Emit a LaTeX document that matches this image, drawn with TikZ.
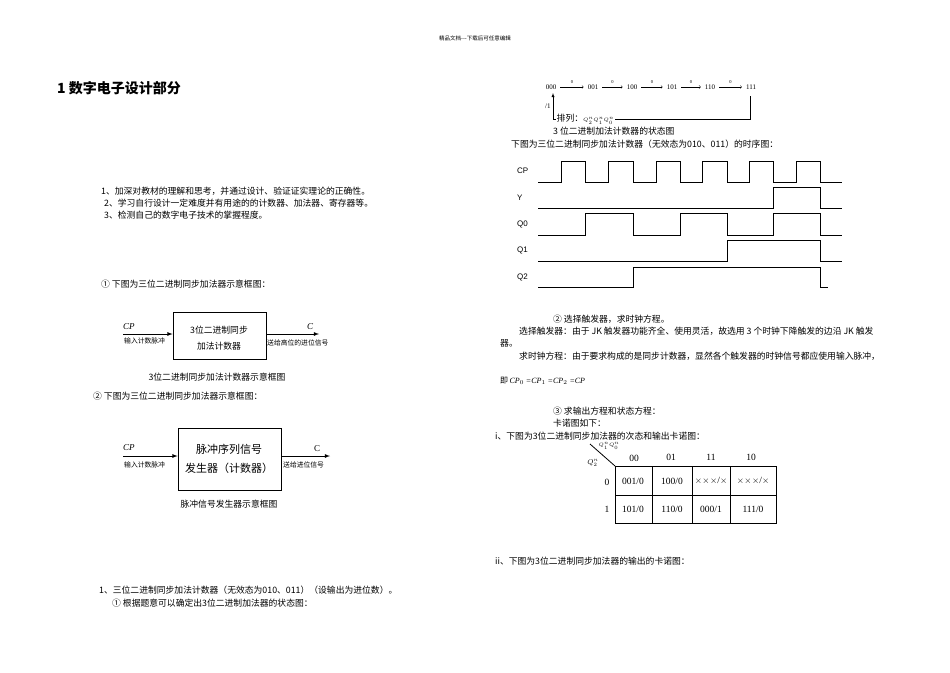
\documentclass[tikz,border=0pt]{standalone}
\usepackage{fontspec}
\setmainfont{Liberation Serif}
\newfontfamily\cjk{Noto Sans CJK SC}
\newfontfamily\arial{Liberation Sans}
\begin{document}
\begin{tikzpicture}[x=1pt,y=-1pt,
  txt/.style={anchor=west,inner sep=0pt,font=\cjk\fontsize{8.8}{9}\selectfont},
  sm/.style={anchor=west,inner sep=0pt,font=\cjk\fontsize{6.8}{7}\selectfont},
  blk/.style={draw,thick,inner sep=0pt},
  sig/.style={line width=0.6pt},
  kc/.style={inner sep=0pt,font=\fontsize{9.5}{10}\selectfont},
  st/.style={inner sep=1pt,font=\fontsize{7}{7}\selectfont},
  arr/.style={-latex,thick}]
\useasboundingbox (0,0) rectangle (950,672);
\node[inner sep=0pt,font=\cjk\fontsize{5.5}{6}\selectfont] (hdr) at (475,38) {精品文档---下载后可任意编辑};
\node[anchor=west,inner sep=0pt,font=\cjk\bfseries\fontsize{14}{15}\selectfont] (ttl) at (57,88) {1 数字电子设计部分};
\node[txt] (a1) at (101,191) {1、加深对教材的理解和思考，并通过设计、验证证实理论的正确性。};
\node[txt] (a2) at (104,203) {2、学习自行设计一定难度并有用途的的计数器、加法器、寄存器等。};
\node[txt] (a3) at (104,215) {3、检测自己的数字电子技术的掌握程度。};
\node[txt] (a4) at (101,284) {① 下图为三位二进制同步加法器示意框图：};
% block 1
\node[blk,minimum width=93pt,minimum height=47pt] (b1) at (219.5,335.5) {};
\node[txt,anchor=center] (b1t1) at (219,330) {3位二进制同步};
\node[txt,anchor=center] (b1t2) at (219,346) {加法计数器};
\coordinate (cp1) at (123,334);
\coordinate (c1) at (319,334);
\draw[arr] (cp1) -- (cp1-|b1.west);
\draw[arr] (c1-|b1.east) -- (c1);
\node[anchor=west,inner sep=0pt,font=\itshape\fontsize{9}{9}\selectfont] (cpl1) at (123,327) {CP};
\node[anchor=west,inner sep=0pt,font=\itshape\fontsize{9}{9}\selectfont] (cl1) at (307,327) {C};
\node[sm] (in1) at (124,341) {输入计数脉冲};
\node[sm] (o1) at (267,343) {送给高位的进位信号};
\node[txt,anchor=center] (cap1) at (217,377) {3位二进制同步加法计数器示意框图};
\node[txt] (a5) at (93,396) {② 下图为三位二进制同步加法器示意框图：};
% block 2
\node[blk,minimum width=103pt,minimum height=62pt] (b2) at (229.5,459) {};
\node[inner sep=0pt,font=\cjk\fontsize{11}{12}\selectfont] (b2t1) at (229,449) {脉冲序列信号};
\node[inner sep=0pt,font=\cjk\fontsize{11}{12}\selectfont] (b2t2) at (229,468) {发生器（计数器）};
\coordinate (cp2) at (123,456);
\coordinate (c2) at (330,456);
\draw[arr] (cp2) -- (cp2-|b2.west);
\draw[arr] (c2-|b2.east) -- (c2);
\node[anchor=west,inner sep=0pt,font=\itshape\fontsize{9}{9}\selectfont] (cpl2) at (123,448) {CP};
\node[anchor=west,inner sep=0pt,font=\fontsize{9}{9}\selectfont] (cl2) at (314,449) {C};
\node[sm] (in2) at (124,465) {输入计数脉冲};
\node[sm] (o2) at (283,465) {送给进位信号};
\node[txt,anchor=center] (cap2) at (229,504) {脉冲信号发生器示意框图};
\node[txt] (a6) at (99,590) {1、三位二进制同步加法计数器（无效态为010、011）（设输出为进位数）。};
\node[txt] (a7) at (112,603) {① 根据题意可以确定出3位二进制加法器的状态图：};
% state diagram
\node[st] (s0) at (551,87) {000};
\node[st] (s1) at (593,87) {001};
\node[st] (s2) at (632,87) {100};
\node[st] (s3) at (672,87) {101};
\node[st] (s4) at (710,87) {110};
\node[st] (s5) at (751,87) {111};
\foreach \a/\b in {s0/s1,s1/s2,s2/s3,s3/s4,s4/s5}
  \draw[->,thin,shorten <=3pt,shorten >=3pt] (\a) -- node[above=-0.5pt,font=\fontsize{4.5}{4}\selectfont]{0} (\b);
\coordinate (fb1) at (750,96);
\coordinate (fb2) at (750,119);
\coordinate (fb3) at (553,119);
\coordinate (fb4) at (553,93);
\draw[thin,-latex] (fb1) -- (fb2) -- (fb3) -- (fb4);
\node[anchor=west,inner sep=0pt,font=\fontsize{7}{7}\selectfont] (l1) at (545,106) {/1};
\node[txt,fill=white,inner sep=0.5pt] (pl) at (556,119) {排列：\fontsize{5.5}{5}\selectfont\itshape $Q_2^nQ_1^nQ_0^n$};
\node[txt] (sc) at (553,131) {3 位二进制加法计数器的状态图};
\node[txt] (sd) at (511,144) {下图为三位二进制同步加法计数器（无效态为010、011）的时序图：};
% timing
\foreach \n/\y/\t in {lcp/171/CP,ly/198/Y,lq0/224/Q0,lq1/250/Q1,lq2/277/Q2}
  \node[anchor=west,inner sep=0pt,font=\arial\fontsize{8}{8}\selectfont] (\n) at (517,\y) {\t};
\draw[sig] (538,182) -- (561,182) -- (561,161) -- (585,161) -- (585,182) -- (608,182) -- (608,161) -- (633,161) -- (633,182) -- (656,182) -- (656,161) -- (680,161) -- (680,182) -- (702,182) -- (702,161) -- (727,161) -- (727,182) -- (749,182) -- (749,161) -- (773,161) -- (773,182) -- (796,182) -- (796,161) -- (820,161) -- (820,182) -- (842,182);
\draw[sig] (538,208) -- (773,208) -- (773,187) -- (820,187) -- (820,208) -- (842,208);
\draw[sig] (538,235) -- (585,235) -- (585,213) -- (633,213) -- (633,235) -- (680,235) -- (680,213) -- (727,213) -- (727,235) -- (773,235) -- (773,213) -- (820,213) -- (820,235) -- (842,235);
\draw[sig] (538,261) -- (727,261) -- (727,240) -- (820,240) -- (820,261) -- (842,261);
\draw[sig] (538,287) -- (633,287) -- (633,267) -- (820,267) -- (820,287) -- (828,287);
% right text
\node[txt] (r1) at (553,319) {② 选择触发器，求时钟方程。};
\node[txt] (r2) at (519,331) {选择触发器：由于 JK 触发器功能齐全、使用灵活，故选用 3 个时钟下降触发的边沿 JK 触发};
\node[txt] (r3) at (500,343) {器。};
\node[txt] (r4) at (519,356) {求时钟方程：由于要求构成的是同步计数器，显然各个触发器的时钟信号都应使用输入脉冲，};
\node[anchor=west,inner sep=0pt,font=\fontsize{8}{8}\selectfont] (r5) at (500,381) {{\cjk 即}\,\itshape CP$_0$ =CP$_1$ =CP$_2$ =CP};
\node[txt] (r6) at (553,411) {③ 求输出方程和状态方程：};
\node[txt] (r7) at (553,423) {卡诺图如下：};
\node[txt] (r8) at (495,436) {i、下图为3位二进制同步加法器的次态和输出卡诺图：};
\node[txt] (r9) at (495,561) {ii、下图为3位二进制同步加法器的输出的卡诺图：};
% K-map
\coordinate (k0) at (615,466);
\coordinate (k1) at (776,523);
\draw[line width=0.8pt] (k0) rectangle (k1);
\draw[line width=0.8pt] (615,495) -- (776,495);
\foreach \x in {652,692,730} \draw[line width=0.8pt] (\x,466) -- (\x,523);
\coordinate (dg) at (590,444);
\draw[line width=0.8pt] (dg) -- (k0);
\node[kc] at (634,458) {00};
\node[kc] at (671,457) {01};
\node[kc] at (711,457) {11};
\node[kc] at (751,457) {10};
\node[kc] at (607,482) {0};
\node[kc] at (607,509) {1};
\node[kc] at (633,481) {001/0};
\node[kc] at (672,481) {100/0};
\node[kc] at (711,481) {$\times\!\times\!\times$/$\times$};
\node[kc] at (753,481) {$\times\!\times\!\times$/$\times$};
\node[kc] at (633,509) {101/0};
\node[kc] at (672,509) {110/0};
\node[kc] at (711,509) {000/1};
\node[kc] at (753,509) {111/0};
\node[inner sep=0pt,font=\itshape\fontsize{5}{5}\selectfont] at (609,446) {$Q_1^nQ_0^n$};
\node[inner sep=0pt,font=\itshape\fontsize{7}{7}\selectfont] at (593,463) {$Q_2^n$};
\end{tikzpicture}
\end{document}
